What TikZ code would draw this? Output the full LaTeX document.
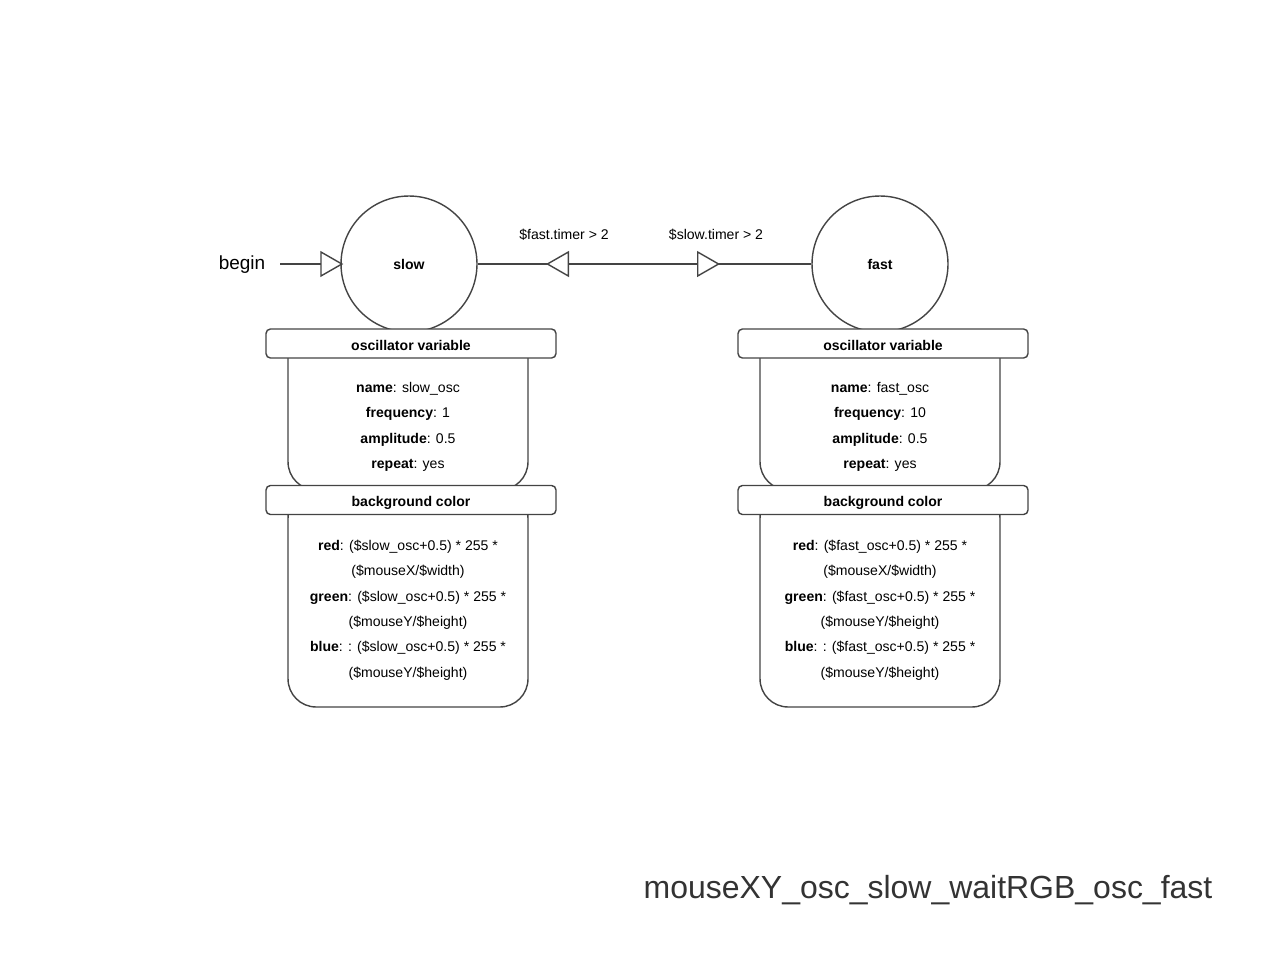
\documentclass[tikz,border=0pt]{standalone}
\usepackage{fontspec}
\setmainfont{Liberation Sans}
\usetikzlibrary{positioning,arrows.meta}
\definecolor{linegray}{HTML}{444444}
\definecolor{titlegray}{HTML}{333333}

\begin{document}
\begin{tikzpicture}[x=0.02cm,y=-0.02cm,node distance=0.5cm]
  \tikzstyle{statecircle} = [circle, draw=linegray, line width=0.8pt, minimum size=2.72cm, inner sep=0pt, font=\fontsize{8}{10}\selectfont\bfseries]
  \tikzstyle{headbox} = [rectangle, rounded corners=2.5pt, draw=linegray, fill=white, line width=0.8pt, minimum width=5.8cm, minimum height=0.58cm, inner sep=0pt, text height=1.45ex, text depth=0pt, font=\fontsize{8}{10}\selectfont\bfseries]
  \tikzstyle{bodybox} = [rectangle, rounded corners=16pt, draw=linegray, fill=white, line width=0.8pt, minimum width=4.8cm, inner sep=0pt]
  \tikzstyle{fieldtext} = [align=center, inner sep=0pt, font=\fontsize{8}{14.4}\selectfont]
  \tikzstyle{edge} = [draw=linegray, line width=0.8pt]
  \tikzstyle{marker} = [draw=linegray, line width=0.8pt, -{Triangle[length=0.46cm, width=0.52cm, fill=white]}]
  \useasboundingbox (0,0) rectangle (1280,960);

  % states
  \node (slow) [statecircle] at (409,264) {slow};
  \node (fast) [statecircle] at (880,264) {fast};
  \node (begin) [font=\fontsize{10.8}{13}\selectfont] at (242,265) {begin};
  \coordinate (beginout) at (280,264);
  \draw [marker] (beginout) -- ([xshift=0.06cm]slow.west);

  % transitions
  \draw [edge] (slow) -- (fast);
  \coordinate (fastbase) at (575,264);
  \coordinate (fasttip) at (546,264);
  \coordinate (slowbase) at (690,264);
  \coordinate (slowtip) at (720,264);
  \draw [marker] (fastbase) -- (fasttip);
  \draw [marker] (slowbase) -- (slowtip);
  \node (fastcond) [font=\fontsize{8}{10}\selectfont] at (564,235) {\$fast.timer > 2};
  \node (slowcond) [font=\fontsize{8}{10}\selectfont] at (716,235) {\$slow.timer > 2};

  % slow state properties
  \node (slowvars) [bodybox, minimum height=3.2cm] at (408,410) {};
  \node (slowbg) [bodybox, minimum height=4.34cm] at (408,598.5) {};
  \node (slowvarshead) [headbox] at (411,343.5) {oscillator variable};
  \node (slowbghead) [headbox] at (411,500) {background color};
  \node (slowvarstxt) [fieldtext] at (408,427) {\textbf{name}: slow\_osc\\ \textbf{frequency}: 1\\ \textbf{amplitude}: 0.5\\ \textbf{repeat}: yes};
  \node (slowbgtxt) [fieldtext] at (408,610) {\textbf{red}: (\$slow\_osc+0.5) * 255 *\\ (\$mouseX/\$width)\\ \textbf{green}: (\$slow\_osc+0.5) * 255 *\\ (\$mouseY/\$height)\\ \textbf{blue}: : (\$slow\_osc+0.5) * 255 *\\ (\$mouseY/\$height)};

  % fast state properties
  \node (fastvars) [bodybox, minimum height=3.2cm] at (880,410) {};
  \node (fastbg) [bodybox, minimum height=4.34cm] at (880,598.5) {};
  \node (fastvarshead) [headbox] at (883,343.5) {oscillator variable};
  \node (fastbghead) [headbox] at (883,500) {background color};
  \node (fastvarstxt) [fieldtext] at (880,427) {\textbf{name}: fast\_osc\\ \textbf{frequency}: 10\\ \textbf{amplitude}: 0.5\\ \textbf{repeat}: yes};
  \node (fastbgtxt) [fieldtext] at (880,610) {\textbf{red}: (\$fast\_osc+0.5) * 255 *\\ (\$mouseX/\$width)\\ \textbf{green}: (\$fast\_osc+0.5) * 255 *\\ (\$mouseY/\$height)\\ \textbf{blue}: : (\$fast\_osc+0.5) * 255 *\\ (\$mouseY/\$height)};

  \node (title) [font=\fontsize{18.2}{22}\selectfont, text=titlegray] at (928,890) {mouseXY\_osc\_slow\_waitRGB\_osc\_fast};
\end{tikzpicture}
\end{document}
